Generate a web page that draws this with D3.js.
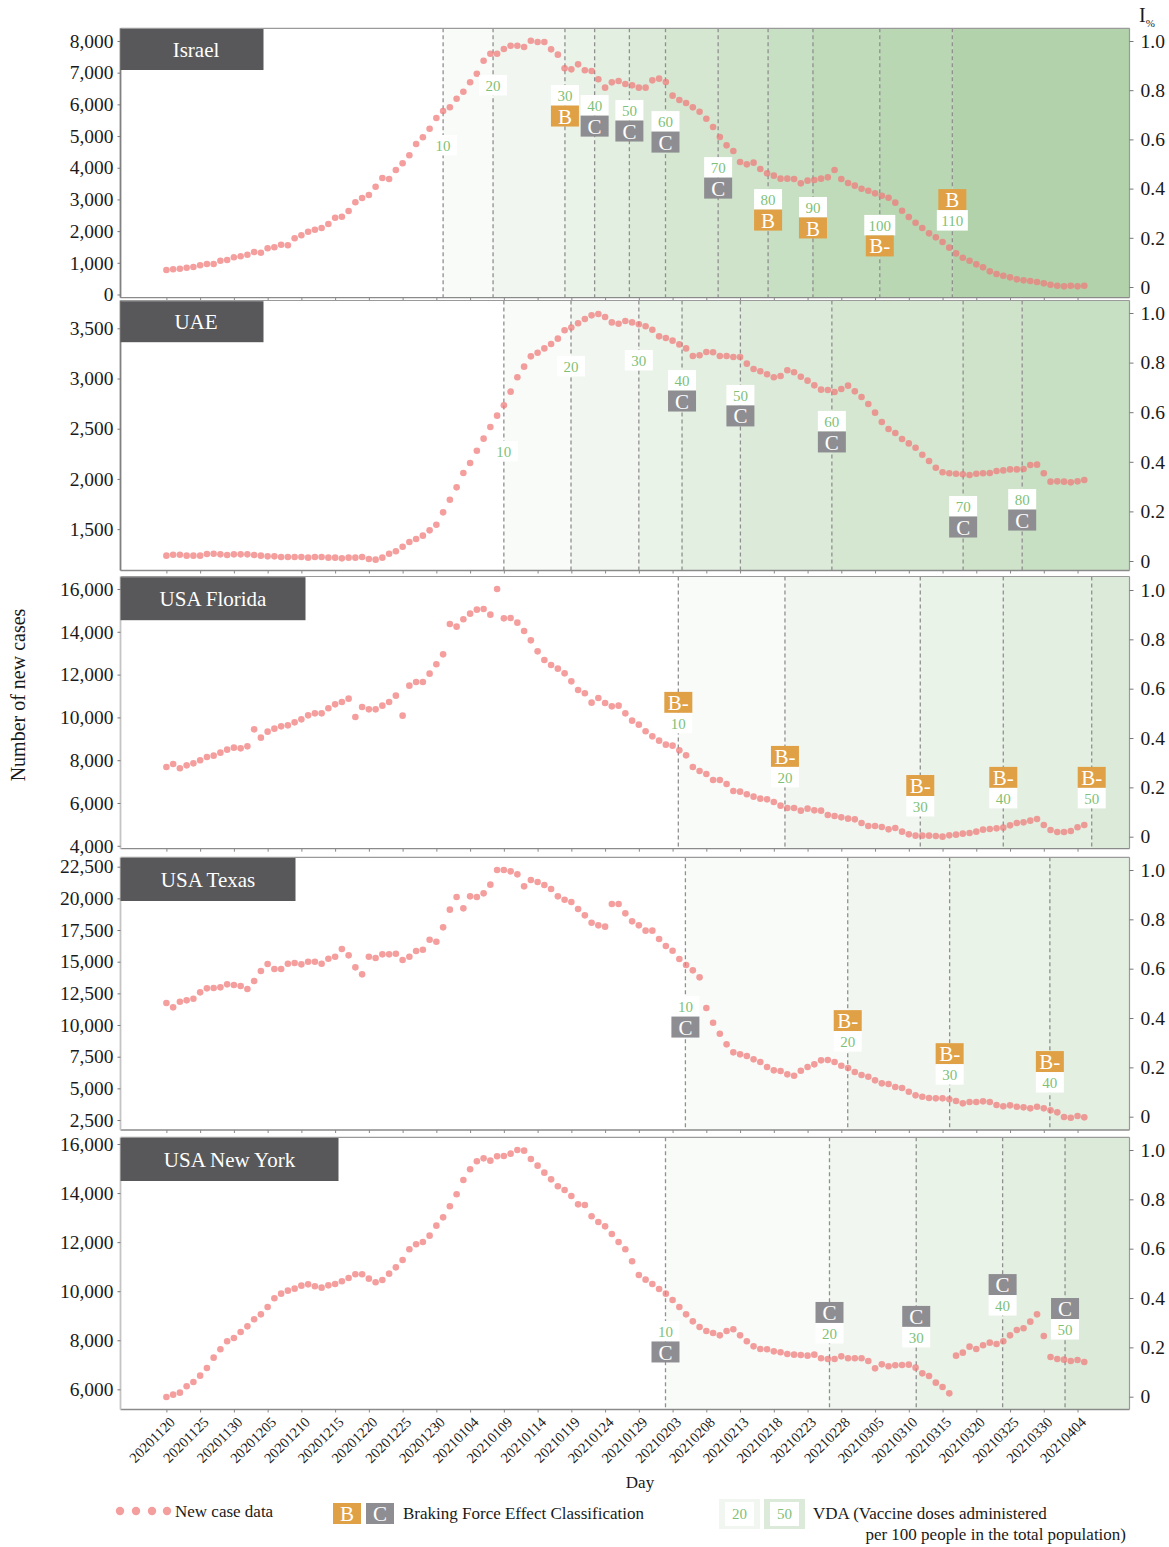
<!DOCTYPE html>
<html><head><meta charset="utf-8">
<script src="https://cdn.jsdelivr.net/npm/d3@7"></script>
<style>
body{margin:0;background:#fff;}
svg{display:block;font-family:"Liberation Serif","Times New Roman",serif;}
</style>
</head><body>
<svg id="chart" width="1169" height="1547"></svg>
<script>
// ---------------- DATA ----------------
const startDate = "20201120"; // first daily point; one point per day
const tickLabels = ["20201120","20201125","20201130","20201205","20201210","20201215","20201220","20201225","20201230","20210104","20210109","20210114","20210119","20210124","20210129","20210203","20210208","20210213","20210218","20210223","20210228","20210305","20210310","20210315","20210320","20210325","20210330","20210404"];

const israelCases = [773,795,814,846,868,921,962,962,1067,1089,1174,1205,1256,1341,1319,1458,1489,1571,1553,1773,1868,1982,2045,2098,2225,2424,2455,2635,2909,3045,3140,3402,3676,3645,3929,4140,4393,4749,4961,5232,5570,5791,5907,6179,6400,6696,6968,7378,7599,7599,7747,7851,7851,7810,8009,7968,7968,7736,7568,7137,7105,7263,7074,7053,6790,6527,6695,6737,6642,6600,6527,6527,6758,6811,6705,6274,6137,6043,5906,5769,5548,5285,4970,4707,4528,4181,4107,4160,3960,3823,3750,3655,3655,3645,3508,3592,3613,3655,3697,3928,3645,3518,3434,3339,3276,3192,3118,3055,2898,2645,2445,2266,2098,1930,1804,1656,1478,1299,1162,1067,952,857,731,647,594,541,478,447,426,394,352,310,278,257,278,257,278];
const uaeCases = [1236,1245,1245,1236,1236,1236,1252,1255,1249,1242,1249,1249,1249,1242,1236,1229,1229,1222,1222,1222,1222,1216,1222,1222,1216,1216,1209,1216,1216,1222,1202,1196,1216,1255,1279,1325,1372,1402,1435,1488,1544,1667,1793,1916,2059,2158,2281,2401,2517,2630,2733,2869,3012,3118,3221,3257,3300,3344,3397,3480,3507,3550,3593,3629,3642,3613,3559,3546,3573,3559,3540,3520,3486,3420,3403,3377,3340,3300,3224,3231,3264,3261,3224,3224,3214,3214,3148,3095,3072,3042,3012,3025,3082,3062,3018,2979,2932,2889,2885,2866,2896,2929,2872,2816,2746,2660,2567,2497,2457,2397,2354,2311,2241,2178,2112,2066,2056,2052,2046,2039,2052,2056,2059,2079,2085,2095,2095,2099,2139,2142,2056,1973,1976,1973,1966,1976,1989];
const floridaCases = [7682,7822,7620,7760,7853,7994,8149,8212,8352,8492,8585,8554,8648,9442,9053,9333,9473,9582,9629,9769,9909,10096,10190,10190,10424,10610,10720,10875,10019,10486,10377,10377,10548,10720,11015,10081,11483,11654,11654,12044,12480,12947,14365,14240,14583,14847,15034,15065,14801,16000,14629,14645,14427,14037,13601,13087,12682,12449,12277,12059,11685,11280,11125,10688,10906,10673,10517,10548,10190,9847,9660,9349,9115,8913,8726,8679,8461,8227,7682,7495,7355,7074,7074,6888,6560,6529,6405,6296,6202,6171,6046,5875,5766,5766,5641,5735,5657,5641,5439,5392,5330,5268,5236,5065,4925,4925,4878,4769,4831,4660,4535,4473,4473,4473,4457,4426,4489,4520,4567,4598,4660,4754,4785,4816,4847,4956,5065,5096,5174,5252,4972,4738,4644,4644,4691,4863,4972];
const texasCases = [11737,11395,11842,11948,12079,12579,12895,12921,12974,13211,13158,13079,12843,13474,14264,14817,14422,14422,14843,14896,14790,15001,15001,14843,15238,15396,16001,15501,14553,14001,15396,15290,15580,15580,15632,15132,15396,15843,15948,16738,16580,17712,19107,20107,19212,20160,20107,20396,21081,22239,22239,22134,21897,20949,21449,21291,21054,20739,20160,19896,19712,19159,18659,18080,17870,17765,19554,19554,18817,18186,17870,17449,17449,16791,16238,15869,15211,14738,14316,13764,11342,10184,9316,8473,7842,7684,7552,7289,7078,6684,6420,6367,6105,6000,6394,6684,6894,7210,7236,7078,6789,6605,6289,6052,5920,5631,5394,5341,5104,5025,4736,4446,4341,4236,4210,4210,4131,3999,3815,3920,3920,3972,3920,3683,3578,3657,3552,3499,3420,3552,3420,3262,3104,2736,2683,2815,2710];
const newYorkCases = [5688,5783,5864,6123,6299,6557,6870,7291,7631,7957,8093,8337,8568,8854,9057,9356,9710,9900,10022,10104,10226,10280,10199,10144,10239,10294,10403,10538,10688,10688,10511,10362,10457,10715,10973,11272,11707,11911,12006,12264,12672,13011,13460,13949,14533,14968,15294,15416,15321,15498,15511,15606,15756,15729,15389,15117,14832,14560,14275,14125,13881,13541,13514,13052,12821,12644,12332,12006,11707,11218,10661,10470,10294,10090,9900,9642,9356,9057,8772,8541,8378,8297,8201,8378,8446,8201,7957,7753,7644,7631,7549,7509,7441,7414,7400,7373,7414,7264,7237,7237,7345,7264,7264,7264,7155,6856,7019,6938,6979,6992,7006,6883,6652,6544,6272,6095,5837,7373,7495,7739,7644,7794,7903,7848,7957,8201,8419,8487,8758,9057,8174,7318,7237,7210,7155,7196,7114];

// VDA milestones: day offset from startDate, VDA value, braking class, I% level of label, class label above number
const israelVdaDays   = [41.0,48.4,59.05,63.45,68.6,73.95,81.75,89.15,95.8,105.7,116.45];
const israelVda       = [10,20,30,40,50,60,70,80,90,100,110];
const israelClass     = [null,null,"B","C","C","C","C","B","B","B-","B"];
const israelLabelAt   = [0.618,0.862,0.821,0.780,0.760,0.715,0.528,0.398,0.366,0.293,0.398];
const israelClassTop  = [false,false,false,false,false,false,false,false,false,false,true];

const uaeVdaDays  = [50.0,59.95,70.0,76.4,85.05,98.6,118.05,126.8];
const uaeVda      = [10,20,30,40,50,60,70,80];
const uaeClass    = [null,null,null,"C","C","C","C","C"];
const uaeLabelAt  = [0.484,0.827,0.851,0.770,0.710,0.605,0.262,0.290];
const uaeClassTop = [false,false,false,false,false,false,false,false];

const floridaVdaDays  = [75.85,91.65,111.7,124.0,137.1];
const floridaVda      = [10,20,30,40,50];
const floridaClass    = ["B-","B-","B-","B-","B-"];
const floridaLabelAt  = [0.587,0.368,0.250,0.283,0.283];
const floridaClassTop = [true,true,true,true,true];

const texasVdaDays  = [76.9,100.95,116.05,130.9];
const texasVda      = [10,20,30,40];
const texasClass    = ["C","B-","B-","B-"];
const texasLabelAt  = [0.489,0.432,0.298,0.266];
const texasClassTop = [false,true,true,true];

const newYorkVdaDays  = [73.95,98.25,111.1,123.9,133.15];
const newYorkVda      = [10,20,30,40,50];
const newYorkClass    = ["C","C","C","C","C"];
const newYorkLabelAt  = [0.307,0.384,0.368,0.497,0.400];
const newYorkClassTop = [false,true,true,true,true];

const israelTicks  = [0,1000,2000,3000,4000,5000,6000,7000,8000];
const uaeTicks     = [1500,2000,2500,3000,3500];
const floridaTicks = [4000,6000,8000,10000,12000,14000,16000];
const texasTicks   = [2500,5000,7500,10000,12500,15000,17500,20000,22500];
const newYorkTicks = [6000,8000,10000,12000,14000,16000];
const rightTicks   = [0,0.2,0.4,0.6,0.8,1.0];

// ---------------- LAYOUT ----------------
const panels = [
  {name:"Israel", cases:israelCases, ticks:israelTicks, domain:[-101,8400], top:28.3, bottom:297.7, rTop:41, rBottom:287, titleW:143, titleH:41, leftCol:"#808080",
   vd:israelVdaDays, vv:israelVda, vc:israelClass, va:israelLabelAt, vt:israelClassTop},
  {name:"UAE", cases:uaeCases, ticks:uaeTicks, domain:[1088,3777], top:300.5, bottom:570.5, rTop:313, rBottom:561, titleW:143, titleH:41, leftCol:"#808080",
   vd:uaeVdaDays, vv:uaeVda, vc:uaeClass, va:uaeLabelAt, vt:uaeClassTop},
  {name:"USA Florida", cases:floridaCases, ticks:floridaTicks, domain:[3864,16584], top:576.5, bottom:848.7, rTop:590, rBottom:836.7, titleW:185, titleH:43, leftCol:"#c4c4c4",
   vd:floridaVdaDays, vv:floridaVda, vc:floridaClass, va:floridaLabelAt, vt:floridaClassTop},
  {name:"USA Texas", cases:texasCases, ticks:texasTicks, domain:[1712,23242], top:857.3, bottom:1130, rTop:870, rBottom:1116.7, titleW:175, titleH:43, leftCol:"#c4c4c4",
   vd:texasVdaDays, vv:texasVda, vc:texasClass, va:texasLabelAt, vt:texasClassTop},
  {name:"USA New York", cases:newYorkCases, ticks:newYorkTicks, domain:[5178,16273], top:1137.3, bottom:1409.5, rTop:1150, rBottom:1396.7, titleW:218, titleH:43, leftCol:"#c4c4c4",
   vd:newYorkVdaDays, vv:newYorkVda, vc:newYorkClass, va:newYorkLabelAt, vt:newYorkClassTop}
];

const L = 120.5, R = 1129.5;
const COL = {pt:"#f07878", B:"#e0a046", C:"#8e8e92", green:"#7fbf78", title:"#58585a", dash:"#909090"};
function shade(level){ const a = Math.min(0.045*level, 1); return d3.rgb(255-a*155, 255-a*90, 255-a*170).toString(); }

const svg = d3.select("#chart");
const parse = d3.timeParse("%Y%m%d");
const t0 = parse(startDate);
const tickDays = tickLabels.map(s => d3.timeDay.count(t0, parse(s)));
const x = d3.scaleLinear().domain([-6.8, 142.7]).range([L, R]);

panels.forEach((p, pi) => {
  const g = svg.append("g");
  const y = d3.scaleLinear().domain(p.domain).range([p.bottom, p.top]);
  const yr = d3.scaleLinear().domain([0,1]).range([p.rBottom, p.rTop]);

  // shaded VDA bands
  p.vd.forEach((d, i) => {
    const x0 = x(d), x1 = i < p.vd.length-1 ? x(p.vd[i+1]) : R;
    g.append("rect").attr("x", x0).attr("y", p.top).attr("width", x1-x0)
      .attr("height", p.bottom-p.top).attr("fill", shade(p.vv[i]/10));
  });
  // dashed milestone lines
  g.selectAll("line.vda").data(p.vd).join("line").attr("class","vda")
    .attr("x1", d=>x(d)).attr("x2", d=>x(d)).attr("y1", p.top).attr("y2", p.bottom)
    .attr("stroke", COL.dash).attr("stroke-width", 1.3).attr("stroke-dasharray", "4,3");

  // frame
  g.append("line").attr("x1",L).attr("x2",R).attr("y1",p.top).attr("y2",p.top).attr("stroke","#9a9a9a").attr("stroke-width",1.2);
  g.append("line").attr("x1",L).attr("x2",R).attr("y1",p.bottom).attr("y2",p.bottom).attr("stroke","#8a8a8a").attr("stroke-width",1.3);
  g.append("line").attr("x1",R).attr("x2",R).attr("y1",p.top).attr("y2",p.bottom).attr("stroke","#9a9a9a").attr("stroke-width",1.2);
  g.append("line").attr("x1",L).attr("x2",L).attr("y1",p.top).attr("y2",p.bottom).attr("stroke",p.leftCol).attr("stroke-width",1.8);

  // points
  g.selectAll("circle.pt").data(p.cases).join("circle").attr("class","pt")
    .attr("cx", (d,i)=>x(i)).attr("cy", d=>y(d)).attr("r", 3.3)
    .attr("fill", COL.pt).attr("fill-opacity", 0.72);

  // left axis
  const la = g.append("g").attr("transform", `translate(${L},0)`)
    .call(d3.axisLeft(y).tickValues(p.ticks).tickFormat(d3.format(",")).tickSize(3).tickPadding(4));
  la.select(".domain").remove();
  la.selectAll("line").attr("stroke","#777");
  la.selectAll("text").attr("font-size", 19.5).attr("fill","#1a1a1a").attr("font-family","Liberation Serif, serif");

  // right axis
  const ra = g.append("g").attr("transform", `translate(${R},0)`)
    .call(d3.axisRight(yr).tickValues(rightTicks).tickFormat(d => d===0 ? "0" : d3.format(".1f")(d)).tickSize(4).tickPadding(7));
  ra.select(".domain").remove();
  ra.selectAll("line").attr("stroke","#777");
  ra.selectAll("text").attr("font-size", 19.5).attr("fill","#1a1a1a").attr("font-family","Liberation Serif, serif");

  // bottom ticks
  const ba = g.append("g").attr("transform", `translate(0,${p.bottom})`)
    .call(d3.axisBottom(x).tickValues(tickDays).tickSize(3).tickFormat(""));
  ba.select(".domain").remove();
  ba.selectAll("line").attr("stroke","#888");

  // title box
  g.append("rect").attr("x", L).attr("y", p.top+0.7).attr("width", p.titleW).attr("height", p.titleH).attr("fill", COL.title);
  g.append("text").attr("x", L + p.titleW/2 + (pi<2?4:0)).attr("y", p.top+0.7+p.titleH/2)
    .attr("dy","0.35em").attr("text-anchor","middle").attr("fill","#fff").attr("font-size",21).text(p.name);

  // annotations
  p.vd.forEach((d, i) => {
    const cx = x(d);
    const items = p.vc[i] ? (p.vt[i] ? ["cls","vda"] : ["vda","cls"]) : ["vda"];
    let yy = yr(p.va[i]);
    items.forEach(it => {
      const h = it === "vda" ? 20.5 : 21;
      const w = (it === "vda" && p.vv[i] >= 100) ? 31 : 28;
      g.append("rect").attr("x", cx - w/2).attr("y", yy).attr("width", w).attr("height", h)
        .attr("fill", it === "vda" ? "#fff" : (p.vc[i] === "C" ? COL.C : COL.B));
      g.append("text").attr("x", cx).attr("y", yy + h/2).attr("dy","0.36em").attr("text-anchor","middle")
        .attr("fill", it === "vda" ? COL.green : "#fff").attr("font-size", it === "vda" ? 15 : 21)
        .text(it === "vda" ? p.vv[i] : p.vc[i]);
      yy += h;
    });
  });

  if (pi === panels.length-1) {
    g.selectAll("text.xl").data(tickDays).join("text").attr("class","xl")
      .attr("transform", d => `translate(${x(d)+6},${p.bottom+10}) rotate(-45)`)
      .attr("text-anchor","end").attr("dy","0.35em").attr("font-size",14.5).attr("fill","#1a1a1a")
      .text((d,i)=>tickLabels[i]);
  }
});

// I% label
const il = svg.append("text").attr("x", 1139).attr("y", 22).attr("font-size", 20).attr("fill","#1a1a1a");
il.append("tspan").text("I");
il.append("tspan").attr("font-size", 11).attr("dy", 5).text("%");

// axis titles
svg.append("text").attr("transform","translate(25,695) rotate(-90)").attr("text-anchor","middle")
  .attr("font-size",20).attr("fill","#1a1a1a").text("Number of new cases");
svg.append("text").attr("x",640).attr("y",1488).attr("text-anchor","middle").attr("font-size",17).attr("fill","#1a1a1a").text("Day");

// legend
const lg = svg.append("g");
[120,136,152,167].forEach(cx => lg.append("circle").attr("cx",cx).attr("cy",1511).attr("r",4.2).attr("fill",COL.pt).attr("fill-opacity",0.72));
lg.append("text").attr("x",175).attr("y",1517).attr("font-size",17).attr("fill","#1a1a1a").text("New case data");
lg.append("rect").attr("x",333).attr("y",1503).attr("width",28).attr("height",21).attr("fill",COL.B);
lg.append("text").attr("x",347).attr("y",1513.5).attr("dy","0.36em").attr("text-anchor","middle").attr("fill","#fff").attr("font-size",21).text("B");
lg.append("rect").attr("x",366).attr("y",1503).attr("width",28).attr("height",21).attr("fill",COL.C);
lg.append("text").attr("x",380).attr("y",1513.5).attr("dy","0.36em").attr("text-anchor","middle").attr("fill","#fff").attr("font-size",21).text("C");
lg.append("text").attr("x",403).attr("y",1519).attr("font-size",17).attr("fill","#1a1a1a").text("Braking Force Effect Classification");
[[719,20],[764,50]].forEach(([bx,v]) => {
  lg.append("rect").attr("x",bx).attr("y",1499).attr("width",41).attr("height",30).attr("fill",shade(v/10));
  lg.append("rect").attr("x",bx+6).attr("y",1502).attr("width",29).attr("height",24).attr("fill","#fff");
  lg.append("text").attr("x",bx+20.5).attr("y",1514).attr("dy","0.36em").attr("text-anchor","middle").attr("fill",COL.green).attr("font-size",15).text(v);
});
lg.append("text").attr("x",813).attr("y",1519).attr("font-size",17).attr("fill","#1a1a1a").text("VDA (Vaccine doses administered");
lg.append("text").attr("x",1126).attr("y",1540).attr("text-anchor","end").attr("font-size",17).attr("fill","#1a1a1a").text("per 100 people in the total population)");
</script>
</body></html>
